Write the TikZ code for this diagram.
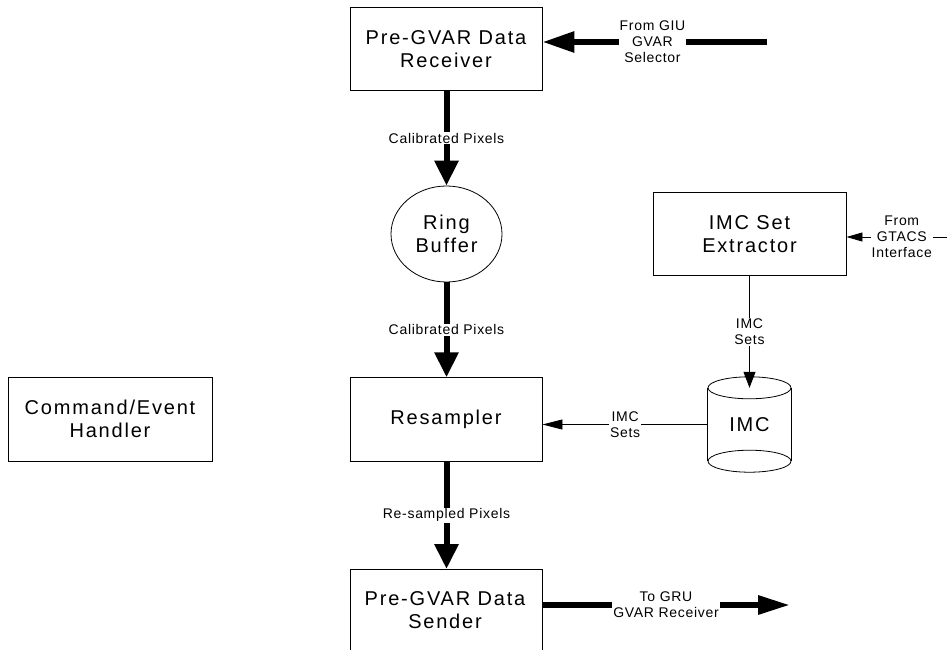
\documentclass[tikz,border=0pt]{standalone}
\usepackage{fontspec}
\setmainfont{Liberation Sans}
\usetikzlibrary{arrows.meta,positioning,shapes.geometric}
\newfontfamily\bigfont[LetterSpace=9]{Liberation Sans}
\newfontfamily\smallfont[LetterSpace=5]{Liberation Sans}
\begin{document}
\begin{tikzpicture}[x=1pt,y=-1pt,
  boxnode/.style={draw,line width=0.9pt,minimum width=192pt,minimum height=83.5pt,align=center,inner sep=0pt,font=\bigfont\fontsize{20}{23}\selectfont},
  lbl/.style={fill=white,inner sep=1pt,align=center,font=\smallfont\fontsize{14}{16}\selectfont},
  thickarrow/.style={line width=6pt,-{Triangle[length=25pt,width=23pt]}},
  thinarrow/.style={line width=0.8pt,-{Triangle[length=20pt,width=10pt]}}
]
\useasboundingbox (0,0) rectangle (947,650);
\clip (0,0) rectangle (947,650);
% boxes
\node[boxnode] (rcv) at (446,48.75) {Pre-GVAR Data\\Receiver};
\node[draw,line width=0.8pt,ellipse,minimum width=111pt,minimum height=96pt,inner sep=0pt,align=center,font=\bigfont\fontsize{20}{23}\selectfont] (ring) at (446.5,234) {Ring\\Buffer};
\node[boxnode] (res) at (446,419.5) {Resampler};
\node[boxnode,minimum width=193pt] (ext) at (749.5,234) {IMC Set\\Extractor};
\node[boxnode,minimum width=204pt,minimum height=84pt] (cmd) at (110,419) {Command/Event\\Handler};
% sender box (cut off at bottom)
\node[align=center,inner sep=0pt,font=\bigfont\fontsize{20}{23}\selectfont] (snd) at (445,610) {Pre-GVAR Data\\Sender};
\coordinate (sndtop) at (446.5,569);
\draw[line width=0.9pt] (350,660) -- (350,569) -- (542,569) -- (542,660);
\coordinate (sndright) at (542,605);
% cylinder
\node[minimum width=83pt,minimum height=73pt,inner sep=0pt,font=\bigfont\fontsize{20}{23}\selectfont] (imc) at (749.5,424.5) {IMC};
\draw[line width=0.8pt] (imc.north west) -- (imc.south west);
\draw[line width=0.8pt] (imc.north east) -- (imc.south east);
\draw[line width=0.8pt] (imc.north) ellipse [x radius=41.5pt,y radius=11pt];
\draw[line width=0.8pt] (imc.south) ellipse [x radius=41.5pt,y radius=11pt];
% free ends
\coordinate (giu) at (767,42);
\coordinate (gru) at (790,605);
\coordinate (gtacs) at (947,237);
% connectors
\draw[line width=6pt,-{Triangle[length=32pt,width=20pt]}] (giu) -- (rcv.east |- giu)
  node[lbl,pos=0.51] {From GIU\\GVAR\\Selector};
\draw[thickarrow] (rcv.south -| ring.north) -- (ring.north) node[lbl,midway] {Calibrated Pixels};
\draw[thickarrow] (ring.south) -- (res.north -| ring.south) node[lbl,midway] {Calibrated Pixels};
\draw[thickarrow] (res.south -| sndtop) -- (sndtop) node[lbl,midway] {Re-sampled Pixels};
\draw[line width=6pt,-{Triangle[length=32pt,width=18pt]}] (sndright) -- (gru)
  node[lbl,midway] {To GRU\\GVAR Receiver};
\draw[line width=0.8pt,-{Triangle[length=16pt,width=9pt]}] (gtacs) -- (ext.east |- gtacs)
  node[lbl,pos=0.45] {From\\GTACS\\Interface};
\draw[line width=0.8pt,-{Triangle[length=16pt,width=12pt]}] (ext.south) -- (imc.north) node[lbl,midway] {IMC\\Sets};
\draw[thinarrow] (imc.west) -- (res.east |- imc.west) node[lbl,midway] {IMC\\Sets};
\end{tikzpicture}
\end{document}
